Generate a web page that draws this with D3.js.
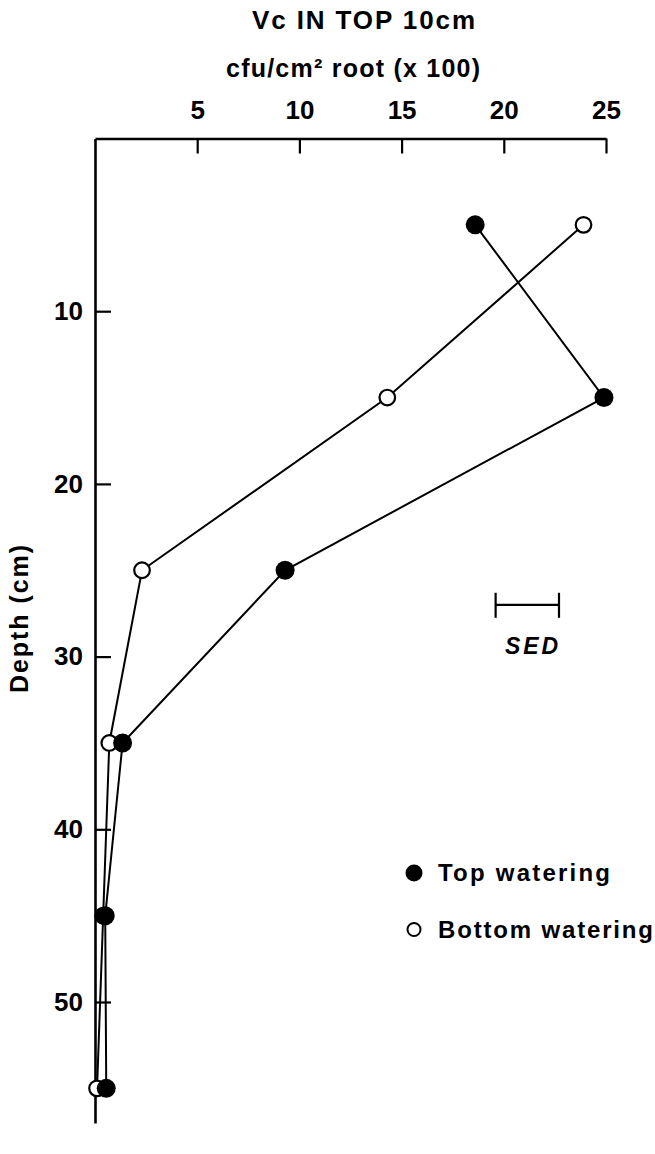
<!DOCTYPE html>
<html>
<head>
<meta charset="utf-8">
<script src="https://cdn.jsdelivr.net/npm/d3@7/dist/d3.min.js"></script>
<style>
  html, body { margin: 0; padding: 0; background: #fff; }
  svg { display: block; }
  text { font-family: "Liberation Sans", Arial, Helvetica, sans-serif; font-weight: bold; fill: #000; }
</style>
</head>
<body>
<svg id="chart" width="655" height="1154"></svg>
<script>
// Soil depth (cm) of each sampled layer
const depths = [5, 15, 25, 35, 45, 55];
// Vc colonisation, cfu/cm² root (x100)
const topWatering = [18.6, 24.9, 9.3, 1.35, 0.5, 0.55];
const bottomWatering = [23.9, 14.3, 2.3, 0.7, 0.4, 0.1];
// Axis ticks
const xTicks = [5, 10, 15, 20, 25];
const yTicks = [10, 20, 30, 40, 50];
// Standard error of difference
const sed = 3.1;
const sedAt = 19.6;   // left end of the SED bar, in cfu units
const sedDepth = 27.0;

const svg = d3.select("#chart");

const x = d3.scaleLinear().domain([0, 25]).range([95, 606]);
const y = d3.scaleLinear().domain([0, 57]).range([138.5, 1122.9]);

// Titles above the top axis
svg.append("text")
  .attr("x", 252).attr("y", 28.5)
  .attr("font-size", 26)
  .attr("textLength", 223).attr("lengthAdjust", "spacing")
  .text("Vc IN TOP 10cm");

svg.append("text")
  .attr("x", 226).attr("y", 77)
  .attr("font-size", 25)
  .attr("textLength", 254).attr("lengthAdjust", "spacing")
  .text("cfu/cm² root (x 100)");

// Top (value) axis
const xAxis = d3.axisTop(x)
  .tickValues(xTicks)
  .tickSizeInner(-15)
  .tickSizeOuter(0)
  .tickPadding(20)
  .tickFormat(d3.format("d"));

const gx = svg.append("g")
  .attr("transform", `translate(0,${y(0)})`)
  .call(xAxis);
gx.select(".domain").attr("stroke", "#000").attr("stroke-width", 2.6);
gx.selectAll(".tick line").attr("stroke", "#000").attr("stroke-width", 2.2);
gx.selectAll(".tick text")
  .attr("font-size", 26)
  .style("font-family", "'Liberation Sans', Arial, sans-serif")
  .style("font-weight", "bold");

// Left (depth) axis
const yAxis = d3.axisLeft(y)
  .tickValues(yTicks)
  .tickSizeInner(-16)
  .tickSizeOuter(0)
  .tickPadding(12)
  .tickFormat(d3.format("d"));

const gy = svg.append("g")
  .attr("transform", `translate(${x(0)},0)`)
  .call(yAxis);
gy.select(".domain").attr("stroke", "#000").attr("stroke-width", 2.6);
gy.selectAll(".tick line").attr("stroke", "#000").attr("stroke-width", 2.2);
gy.selectAll(".tick text")
  .attr("font-size", 26)
  .style("font-family", "'Liberation Sans', Arial, sans-serif")
  .style("font-weight", "bold");

svg.append("text")
  .attr("transform", `translate(28,619) rotate(-90)`)
  .attr("text-anchor", "middle")
  .attr("font-size", 25)
  .attr("textLength", 148).attr("lengthAdjust", "spacing")
  .text("Depth (cm)");

// Profiles
const line = d3.line()
  .x(d => x(d.v))
  .y(d => y(d.depth));

const series = [
  { name: "Bottom watering", values: bottomWatering, filled: false },
  { name: "Top watering", values: topWatering, filled: true }
];

series.forEach(s => {
  const pts = depths.map((dp, i) => ({ depth: dp, v: s.values[i] }));
  svg.append("path")
    .datum(pts)
    .attr("fill", "none")
    .attr("stroke", "#000")
    .attr("stroke-width", 2)
    .attr("d", line);
});

series.forEach(s => {
  const pts = depths.map((dp, i) => ({ depth: dp, v: s.values[i] }));
  svg.append("g").selectAll("circle")
    .data(pts)
    .join("circle")
    .attr("cx", d => x(d.v))
    .attr("cy", d => y(d.depth))
    .attr("r", s.filled ? 9.5 : 7.8)
    .attr("fill", s.filled ? "#000" : "#fff")
    .attr("stroke", "#000")
    .attr("stroke-width", s.filled ? 0 : 2.2);
});

// SED bar
const sedG = svg.append("g");
const sx0 = x(sedAt), sx1 = x(sedAt + sed), sy = y(sedDepth);
sedG.append("line")
  .attr("x1", sx0).attr("x2", sx1).attr("y1", sy).attr("y2", sy)
  .attr("stroke", "#000").attr("stroke-width", 2.2);
[sx0, sx1].forEach(px => {
  sedG.append("line")
    .attr("x1", px).attr("x2", px).attr("y1", sy - 12).attr("y2", sy + 13)
    .attr("stroke", "#000").attr("stroke-width", 2.2);
});
sedG.append("text")
  .attr("x", 505).attr("y", 654)
  .attr("font-size", 23)
  .attr("font-style", "italic")
  .attr("textLength", 53).attr("lengthAdjust", "spacing")
  .text("SED");

// Legend
const legend = svg.append("g");
const legendItems = [
  { label: "Top watering", filled: true, cy: 873, w: 172 },
  { label: "Bottom watering", filled: false, cy: 929.5, w: 215 }
];
legendItems.forEach(it => {
  legend.append("circle")
    .attr("cx", 414).attr("cy", it.cy)
    .attr("r", it.filled ? 8.5 : 6.5)
    .attr("fill", it.filled ? "#000" : "#fff")
    .attr("stroke", "#000")
    .attr("stroke-width", it.filled ? 0 : 2);
  legend.append("text")
    .attr("x", 438).attr("y", it.cy + 8)
    .attr("font-size", 24)
    .attr("textLength", it.w).attr("lengthAdjust", "spacing")
    .text(it.label);
});
</script>
</body>
</html>
